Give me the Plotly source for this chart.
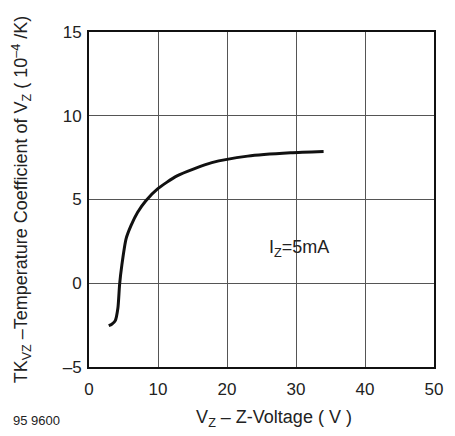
import plotly.graph_objects as go

vz = [2.86, 3.3, 3.81, 4.19, 4.43, 4.76, 5.38, 6.1, 7.05, 8.24, 9.9, 12.76, 17.8, 23.0, 29.2, 34.0]
tk = [-2.53, -2.45, -2.23, -1.48, -0.1, 1.08, 2.66, 3.45, 4.24, 4.93, 5.62, 6.41, 7.2, 7.59, 7.79, 7.87]

x_ticks = [0, 10, 20, 30, 40, 50]
y_ticks = [-5, 0, 5, 10, 15]

font = "Liberation Sans, Arial, Helvetica, sans-serif"

# page body has an 8px margin, so the figure starts at (8, 8)
L, T, R, B = 81, 24, 16, 67
W, H = 447, 428
pw, ph = W - L - R, H - T - B

fig = go.Figure()
fig.add_trace(go.Scatter(x=vz, y=tk, mode="lines",
                         line=dict(color="#111111", width=3, shape="spline", smoothing=0.6),
                         showlegend=False, hoverinfo="skip"))

fig.update_layout(
    width=W, height=H,
    margin=dict(l=L, r=R, t=T, b=B),
    paper_bgcolor="white", plot_bgcolor="white",
    font=dict(family=font, size=17, color="#222222"),
    xaxis=dict(range=[0, 50], tickvals=x_ticks, ticktext=[str(v) for v in x_ticks],
               showgrid=True, gridcolor="#555555", gridwidth=1,
               showline=True, linecolor="#111111", linewidth=2, mirror=True,
               ticks="outside", ticklen=6, tickcolor="rgba(0,0,0,0)",
               zeroline=False, fixedrange=True,
               title=dict(text="&nbsp;&nbsp;&nbsp;&nbsp;&nbsp;V<sub>Z</sub> – Z-Voltage ( V )",
                          standoff=12, font=dict(size=18))),
    yaxis=dict(range=[-5, 15], tickvals=y_ticks,
               ticktext=["–5", "0", "5", "10", "15"],
               showgrid=True, gridcolor="#555555", gridwidth=1,
               showline=True, linecolor="#111111", linewidth=2, mirror=True,
               ticks="outside", ticklen=2, tickcolor="rgba(0,0,0,0)",
               zeroline=False, fixedrange=True,
               title=dict(text="TK<sub>VZ</sub> –Temperature Coefficient of V<sub>Z</sub> ( 10<sup>–4</sup> /K)",
                          standoff=30, font=dict(size=18))),
)

fig.add_annotation(x=30.4, y=2.1, xref="x", yref="y", showarrow=False,
                   text="I<sub>Z</sub>=5mA", font=dict(size=18, color="#222222"))
fig.add_annotation(xref="paper", yref="paper", xanchor="left", yanchor="middle",
                   x=(2 - L) / pw, y=(H - B - 415) / ph, showarrow=False,
                   text="95 9600", font=dict(size=13, color="#222222"))

fig.write_html("out.html")
